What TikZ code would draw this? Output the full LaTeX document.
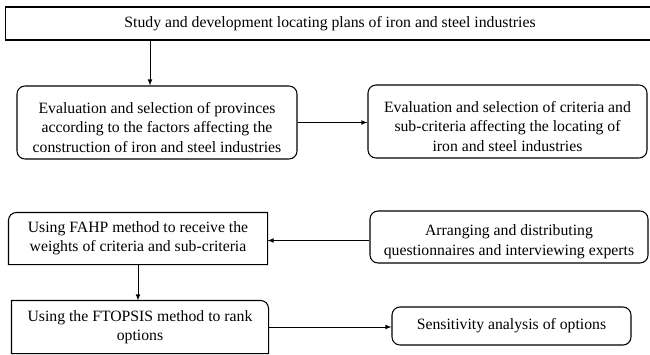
\documentclass[tikz,border=0pt]{standalone}
\usepackage{fontspec}
\setmainfont{Liberation Serif}
\usepackage{tikz}
\usetikzlibrary{arrows,positioning,calc}
\tikzstyle{plainbox}=[draw, line width=0.8pt, align=center, inner sep=0pt, font=\fontsize{11.8}{14.6}\selectfont]
\tikzstyle{roundbox}=[plainbox, rounded corners=6pt]
\tikzstyle{openbox}=[plainbox, draw=none]
\tikzstyle{flow}=[->, line width=0.6pt]
\newcommand{\toppad}{\rule{0pt}{15.5pt}}

\begin{document}
\begin{tikzpicture}[x=0.75pt,y=-0.75pt,>=latex]
\useasboundingbox (0,0) rectangle (650,354);

% first step
\node[plainbox, minimum width=486.75pt, minimum height=24.75pt] (study) at (330,23.5) {Study and development locating plans of iron and steel industries};

% provinces and criteria
\node[roundbox, minimum width=210pt, minimum height=54.75pt] (evalprov) at (157,122.5) {\toppad Evaluation and selection of provinces\\according to the factors affecting the\\construction of iron and steel industries};
\node[roundbox, minimum width=209.25pt, minimum height=54.75pt] (evalcrit) at (507.5,121.5) {\toppad Evaluation and selection of criteria and\\sub-criteria affecting the locating of\\iron and steel industries};

% FAHP
\node[openbox, minimum width=193.5pt, minimum height=38.25pt] (fahp) at (138,238.5) {Using FAHP method to receive the\\weights of criteria and sub-criteria};
\draw[line width=0.8pt] (fahp.south west) -- ([yshift=-6pt]fahp.north west) arc[start angle=180, end angle=90, radius=6pt] -- (fahp.north east) -- (fahp.south east) -- cycle;
\node[roundbox, minimum width=208.5pt, minimum height=39pt] (quest) at (509,237) {\toppad Arranging and distributing\\questionnaires and interviewing experts};

% FTOPSIS
\node[openbox, minimum width=192pt, minimum height=39pt] (ftopsis) at (140,327) {Using the FTOPSIS method to rank\\options};
\draw[line width=0.8pt] (ftopsis.north west) -- ([xshift=-6pt]ftopsis.north east) arc[start angle=90, end angle=0, radius=6pt] -- (ftopsis.south east) -- (ftopsis.south west) -- cycle;
\node[roundbox, minimum width=179.25pt, minimum height=28.5pt] (sens) at (511.5,326) {Sensitivity analysis of options};

% arrows
\coordinate (split) at (150,0);
\draw[flow] (study.south -| split) -- (evalprov.north -| split);
\draw[flow] (evalprov.east) -- (evalprov.east -| evalcrit.west);
\draw[flow] ([yshift=-1.5pt]quest.west |- fahp.east) -- ([yshift=-1.5pt]fahp.east);
\draw[flow] (fahp.south) -- (fahp.south |- ftopsis.north);
\draw[flow] (ftopsis.east) -- (ftopsis.east -| sens.west);

\end{tikzpicture}
\end{document}
